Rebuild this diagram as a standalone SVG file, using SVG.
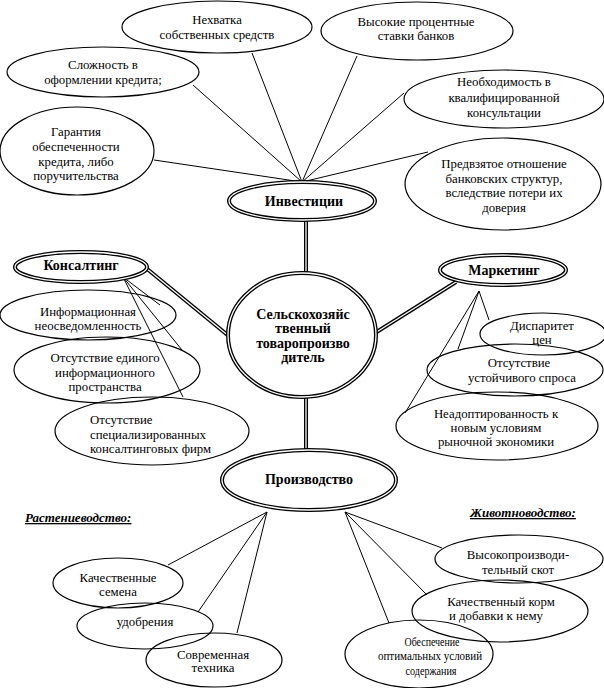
<svg xmlns="http://www.w3.org/2000/svg" width="604" height="688" viewBox="0 0 604 688" font-family="'Liberation Serif', 'Times New Roman', serif">
<style>
text{font-family:'Liberation Serif','Times New Roman',serif;font-size:12.8px;fill:#000;text-anchor:middle}
.b{font-weight:bold;font-size:14px}
.h{font-weight:bold;font-style:italic;text-decoration:underline;text-anchor:start;font-size:13px}
.l{text-anchor:start}
.e{fill:none;stroke:#000;stroke-width:1.2}
.do{fill:#fff;stroke:#000;stroke-width:4}
.di{fill:none;stroke:#fff;stroke-width:1.3}
.t{stroke:#000;stroke-width:1;fill:none}
.lo{stroke:#000;stroke-width:4;fill:none}
.li{stroke:#fff;stroke-width:1.3;fill:none}
</style>
<rect width="604" height="688" fill="#fff"/>
<g id="connectors">
<g class="t">
<line x1="302" y1="182" x2="252" y2="53"/>
<line x1="302" y1="182" x2="357" y2="56"/>
<line x1="302" y1="182" x2="193" y2="85"/>
<line x1="302" y1="182" x2="154" y2="160"/>
<line x1="302" y1="182" x2="404" y2="93"/>
<line x1="302" y1="182" x2="428" y2="152"/>
<line x1="123" y1="277" x2="160" y2="305"/>
<line x1="123" y1="277" x2="182" y2="350"/>
<line x1="123" y1="277" x2="183" y2="397"/>
<line x1="479" y1="291" x2="489" y2="320"/>
<line x1="479" y1="291" x2="458" y2="349"/>
<line x1="479" y1="291" x2="405" y2="413"/>
<line x1="267" y1="512" x2="168" y2="565"/>
<line x1="267" y1="512" x2="198" y2="612"/>
<line x1="267" y1="512" x2="237" y2="633"/>
<line x1="345" y1="512" x2="442" y2="548"/>
<line x1="345" y1="512" x2="427" y2="595"/>
<line x1="345" y1="512" x2="389" y2="623"/>
</g>
<g class="lo">
<line x1="306" y1="219" x2="306" y2="274"/>
<line x1="306" y1="396" x2="306" y2="451"/>
<line x1="146" y1="268" x2="230" y2="337"/>
<line x1="375" y1="333" x2="456" y2="282"/>
</g>
<g class="li">
<line x1="306" y1="219" x2="306" y2="274"/>
<line x1="306" y1="396" x2="306" y2="451"/>
<line x1="146" y1="268" x2="230" y2="337"/>
<line x1="375" y1="333" x2="456" y2="282"/>
</g>
</g>
<g id="n-nehvatka"><ellipse class="e" cx="217" cy="27" rx="95" ry="26"/><text x="217" y="24">Нехватка</text><text x="217" y="39">собственных средств</text></g>
<g id="n-vysokie"><ellipse class="e" cx="417" cy="31" rx="96" ry="29"/><text x="416" y="26">Высокие процентные</text><text x="416" y="40">ставки банков</text></g>
<g id="n-slozhnost"><ellipse class="e" cx="103" cy="72" rx="96" ry="25"/><text x="103" y="69">Сложность в</text><text x="103" y="84">оформлении кредита;</text></g>
<g id="n-garantiya"><ellipse class="e" cx="77" cy="151" rx="77" ry="44"/><text x="76" y="136">Гарантия</text><text x="76" y="151">обеспеченности</text><text x="76" y="165.5">кредита, либо</text><text x="76" y="180">поручительства</text></g>
<g id="n-neobhodimost"><ellipse class="e" cx="504" cy="99" rx="100" ry="29"/><text x="504" y="86">Необходимость в</text><text x="504" y="102">квалифицированной</text><text x="504" y="117">консультации</text></g>
<g id="n-predvzyatoe"><ellipse class="e" cx="503" cy="184" rx="98" ry="46"/><text x="504" y="168">Предвзятое отношение</text><text x="504" y="182.5">банковских структур,</text><text x="504" y="197">вследствие потери их</text><text x="504" y="211.5">доверия</text></g>
<g id="n-investicii"><ellipse class="do" cx="302" cy="201" rx="73" ry="19"/><ellipse class="di" cx="302" cy="201" rx="73" ry="19"/><text class="b" x="304" y="206">Инвестиции</text></g>
<g id="n-center"><ellipse class="do" cx="302" cy="335" rx="74" ry="62"/><ellipse class="di" cx="302" cy="335" rx="74" ry="62"/><text class="b" x="303" y="318.5">Сельскохозяйс</text><text class="b" x="303" y="333">твенный</text><text class="b" x="303" y="347.5">товаропроизво</text><text class="b" x="303" y="362">дитель</text></g>
<g id="n-konsalting"><ellipse class="do" cx="81" cy="267" rx="66" ry="15"/><ellipse class="di" cx="81" cy="267" rx="66" ry="15"/><text class="b" x="81" y="270">Консалтинг</text></g>
<g id="n-marketing"><ellipse class="do" cx="503" cy="270" rx="63" ry="15"/><ellipse class="di" cx="503" cy="270" rx="63" ry="15"/><text class="b" x="504" y="274.5">Маркетинг</text></g>
<g id="n-proizvodstvo"><ellipse class="do" cx="309" cy="480" rx="87" ry="30"/><ellipse class="di" cx="309" cy="480" rx="87" ry="30"/><text class="b" x="309" y="484">Производство</text></g>
<g id="n-inform"><ellipse class="e" cx="88" cy="315" rx="88" ry="25"/><text x="88" y="316">Информационная</text><text x="88" y="329.5">неосведомленность</text></g>
<g id="n-edinogo"><ellipse class="e" cx="107" cy="370" rx="93" ry="33"/><text x="105" y="362">Отсутствие единого</text><text x="105" y="377">информационного</text><text x="105" y="391">пространства</text></g>
<g id="n-spec"><ellipse class="e" cx="152" cy="431" rx="97" ry="34"/><text class="l" x="90" y="424">Отсутствие</text><text class="l" x="90" y="438.5">специализированных</text><text class="l" x="90" y="453">консалтинговых фирм</text></g>
<g id="n-disparitet"><ellipse class="e" cx="543" cy="334" rx="63" ry="21"/><text x="542" y="330">Диспаритет</text><text x="542" y="344">цен</text></g>
<g id="n-spros"><ellipse class="e" cx="515" cy="370" rx="88" ry="26"/><text x="519" y="367">Отсутствие</text><text x="522" y="382">устойчивого спроса</text></g>
<g id="n-neadopt"><ellipse class="e" cx="497" cy="426" rx="101" ry="34"/><text x="496" y="418">Неадоптированность к</text><text x="496" y="432">новым условиям</text><text x="496" y="446">рыночной экономики</text></g>
<g id="h-rast"><text class="h" x="25" y="522">Растениеводство:</text></g>
<g id="h-zhiv"><text class="h" x="470" y="517">Животноводство:</text></g>
<g id="n-semena"><ellipse class="e" cx="118" cy="583" rx="65" ry="25"/><text x="118" y="582">Качественные</text><text x="118" y="596">семена</text></g>
<g id="n-udobreniya"><ellipse class="e" cx="145" cy="626" rx="68" ry="23"/><text x="145" y="626">удобрения</text></g>
<g id="n-tehnika"><ellipse class="e" cx="214" cy="660" rx="68" ry="27"/><text x="213" y="659">Современная</text><text x="213" y="672">техника</text></g>
<g id="n-skot"><ellipse class="e" cx="519" cy="559" rx="84" ry="24"/><text x="518" y="559">Высокопроизводи-</text><text x="518" y="574">тельный скот</text></g>
<g id="n-korm"><ellipse class="e" cx="500" cy="611" rx="88" ry="31"/><text x="501" y="606">Качественный корм</text><text x="496" y="619.5">и добавки к нему</text></g>
<g id="n-obespech"><ellipse class="e" cx="419" cy="654" rx="74" ry="34"/><text x="432" y="645.5" textLength="55" lengthAdjust="spacingAndGlyphs">Обеспечение</text><text x="430" y="660" textLength="104" lengthAdjust="spacingAndGlyphs">оптимальных условий</text><text x="431" y="674.5" textLength="51" lengthAdjust="spacingAndGlyphs">содержания</text></g>
</svg>
